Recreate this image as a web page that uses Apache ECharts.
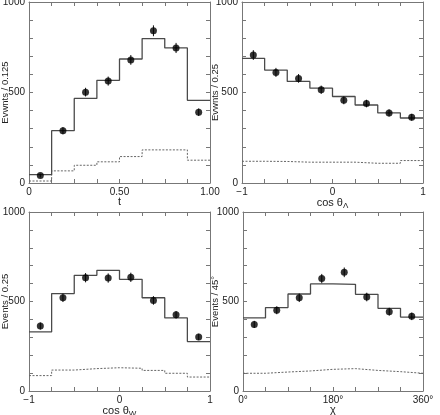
<!DOCTYPE html>
<html>
<head>
<meta charset="utf-8">
<script src="https://cdn.jsdelivr.net/npm/echarts@6/dist/echarts.min.js"></script>
<style>
  html, body { margin: 0; padding: 0; background: #fff; }
  #chart { width: 440px; height: 415px; }
</style>
</head>
<body>
<div id="chart"></div>
<script>
// bin edges of the four histograms
const tEdges = [0, 0.125, 0.25, 0.375, 0.5, 0.625, 0.75, 0.875, 1];
const cosEdges = [-1, -0.75, -0.5, -0.25, 0, 0.25, 0.5, 0.75, 1];
const chiEdges = [0, 45, 90, 135, 180, 225, 270, 315, 360];

// panel 1: t
const tFit = [46, 289, 467, 567, 685, 798, 746, 457];
const tBkg = [11, 67, 98, 117, 146, 183, 183, 126];
const tData = [41, 289, 502, 563, 680, 841, 746, 391];
const tErr = [10, 20, 24, 25, 27, 30, 28, 21];

// panel 2: cos theta_Lambda
const lamFit = [689, 624, 561, 524, 478, 431, 387, 359];
const lamBkg = [120, 119, 115, 115, 115, 109, 109, 124];
const lamData = [707, 611, 578, 515, 457, 439, 387, 363];
const lamErr = [27, 25, 24, 23, 22, 21, 20, 19];

// panel 3: cos theta_W
const wFit = [330, 544, 646, 674, 624, 521, 408, 276];
const wBkg = [86, 117, 125, 130, 127, 115, 99, 78];
const wData = [363, 521, 633, 631, 635, 506, 426, 302];
const wErr = [20, 24, 26, 26, 26, 24, 21, 18];

// panel 4: chi
const chiFit = [408, 466, 542, 598, 596, 540, 462, 413];
const chiBkg = [99, 106, 112, 121, 125, 115, 108, 99];
const chiData = [372, 451, 521, 628, 663, 525, 443, 417];
const chiErr = [20, 22, 24, 26, 27, 24, 22, 21];

const yTicks = [0, 500, 1000];

const textColor = '#222';
const frameColor = '#777';
const font = 'Liberation Sans';

function stepData(edges, vals) {
  let d = vals.map((v, i) => [edges[i], v]);
  d.push([edges[edges.length - 1], vals[vals.length - 1]]);
  return d;
}
function centers(edges) {
  let c = [];
  for (let i = 0; i < edges.length - 1; i++) c.push((edges[i] + edges[i + 1]) / 2);
  return c;
}

let grids = [], xAxes = [], yAxes = [], series = [];

const lineStyleAxis = { show: true, onZero: false, lineStyle: { color: frameColor } };
const tickStyle = { show: true, inside: true, length: 4, lineStyle: { color: frameColor } };
const minorStyle = { show: true, length: 4, lineStyle: { color: frameColor } };

function addPanel(p) {
  const gi = grids.length;
  grids.push(Object.assign({ outerBoundsMode: 'none', containLabel: false }, p.grid));
  const xi = xAxes.length, yi = yAxes.length;
  // bottom and top x axes
  xAxes.push({
    gridIndex: gi, type: 'value', min: p.min, max: p.max, interval: p.interval,
    name: p.xName, nameLocation: 'middle', nameGap: p.xGap, nameMoveOverlap: false,
    nameTextStyle: { color: textColor, fontFamily: font, fontSize: 11, rich: p.rich || {} },
    axisLine: lineStyleAxis,
    axisTick: tickStyle,
    minorTick: Object.assign({ splitNumber: p.minorSplit }, minorStyle),
    splitLine: { show: false },
    axisLabel: { color: textColor, fontFamily: font, fontSize: 10, margin: 4, formatter: p.xFormat, showMinLabel: true, showMaxLabel: true }
  });
  xAxes.push({
    gridIndex: gi, type: 'value', position: 'top', min: p.min, max: p.max, interval: p.interval,
    axisLine: lineStyleAxis,
    axisTick: tickStyle,
    minorTick: Object.assign({ splitNumber: p.minorSplit }, minorStyle),
    splitLine: { show: false }, axisLabel: { show: false }
  });
  yAxes.push({
    gridIndex: gi, type: 'value', min: yTicks[0], max: yTicks[2], interval: yTicks[1] - yTicks[0],
    name: p.yName, nameLocation: 'middle', nameGap: p.yGap, nameMoveOverlap: false,
    nameTextStyle: { color: textColor, fontFamily: font, fontSize: 9.5 },
    axisLine: lineStyleAxis,
    axisTick: tickStyle,
    minorTick: Object.assign({ splitNumber: 5 }, minorStyle),
    splitLine: { show: false },
    axisLabel: { color: textColor, fontFamily: font, fontSize: 10, margin: 4, formatter: v => String(v) }
  });
  yAxes.push({
    gridIndex: gi, type: 'value', position: 'right', min: yTicks[0], max: yTicks[2], interval: yTicks[1] - yTicks[0],
    axisLine: lineStyleAxis,
    axisTick: tickStyle,
    minorTick: Object.assign({ splitNumber: 5 }, minorStyle),
    splitLine: { show: false }, axisLabel: { show: false }
  });

  // expected histogram
  series.push({
    type: 'line', xAxisIndex: xi, yAxisIndex: yi, step: 'end', symbol: 'none',
    lineStyle: { color: '#4a4a4a', width: 1.3 }, data: stepData(p.edges, p.fit), z: 3
  });
  // background histogram (dashed)
  series.push({
    type: 'line', xAxisIndex: xi, yAxisIndex: yi, step: 'end', symbol: 'none',
    lineStyle: { color: '#666', width: 1, type: [2, 1.5] }, data: stepData(p.edges, p.bkg), z: 2
  });
  const c = centers(p.edges);
  // error bars
  series.push({
    type: 'custom', xAxisIndex: xi, yAxisIndex: yi, z: 4,
    data: p.data.map((v, i) => [c[i], v, p.err[i]]),
    renderItem: function (params, api) {
      const lo = api.coord([api.value(0), api.value(1) - api.value(2)]);
      const hi = api.coord([api.value(0), api.value(1) + api.value(2)]);
      return { type: 'line', shape: { x1: lo[0], y1: lo[1], x2: hi[0], y2: hi[1] },
        style: { stroke: '#111', lineWidth: 1 } };
    }
  });
  // data points
  series.push({
    type: 'scatter', xAxisIndex: xi, yAxisIndex: yi, symbol: 'circle', symbolSize: 7,
    itemStyle: { color: '#000' }, data: p.data.map((v, i) => [c[i], v]), z: 5
  });
}

const subRich = { s: { fontSize: 8, fontFamily: font, color: textColor, padding: [7, 0, 0, 0] } };
const signed = v => (v < 0 ? '\u2212' + Math.abs(v) : String(v));

addPanel({
  grid: { left: 29, top: 2, width: 181, height: 181 },
  min: 0, max: 1, interval: 0.5, minorSplit: 4, edges: tEdges,
  fit: tFit, bkg: tBkg, data: tData, err: tErr,
  xName: 't', xGap: 13, yName: 'Evwnts / 0.125', yGap: 19,
  xFormat: v => (v === 0 ? '0' : v.toFixed(2))
});
addPanel({
  grid: { left: 242, top: 2, width: 181, height: 181 },
  min: -1, max: 1, interval: 1, minorSplit: 4, edges: cosEdges,
  fit: lamFit, bkg: lamBkg, data: lamData, err: lamErr,
  xName: 'cos θ{s|Λ}', xGap: 12, yName: 'Evwnts / 0.25', yGap: 22,
  rich: subRich, xFormat: signed
});
addPanel({
  grid: { left: 29, top: 212, width: 181, height: 179 },
  min: -1, max: 1, interval: 1, minorSplit: 4, edges: cosEdges,
  fit: wFit, bkg: wBkg, data: wData, err: wErr,
  xName: 'cos θ{s|W}', xGap: 12, yName: 'Events / 0.25', yGap: 19,
  rich: subRich, xFormat: signed
});
addPanel({
  grid: { left: 243, top: 212, width: 180, height: 179 },
  min: 0, max: 360, interval: 180, minorSplit: 4, edges: chiEdges,
  fit: chiFit, bkg: chiBkg, data: chiData, err: chiErr,
  xName: 'χ', xGap: 13, yName: 'Events / 45°', yGap: 23,
  xFormat: v => v + '°'
});

const chart = echarts.init(document.getElementById('chart'));
chart.setOption({
  animation: false,
  backgroundColor: '#fff',
  grid: grids,
  xAxis: xAxes,
  yAxis: yAxes,
  series: series
});
</script>
</body>
</html>
